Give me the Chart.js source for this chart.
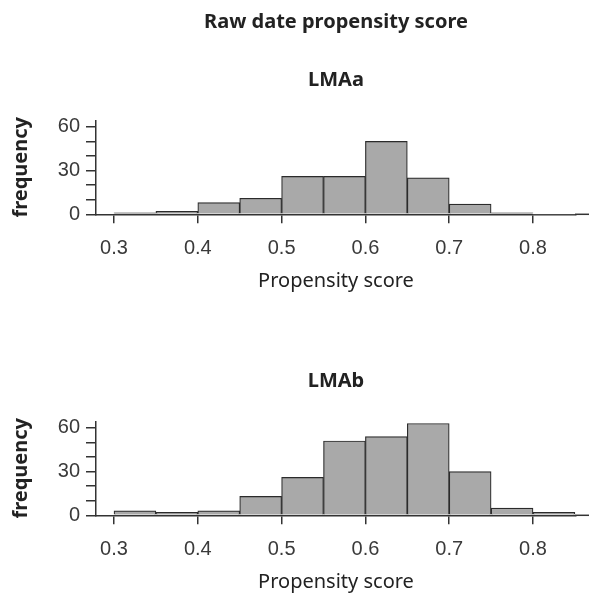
<!DOCTYPE html>
<html>
<head>
<meta charset="utf-8">
<script src="https://cdn.jsdelivr.net/npm/chart.js@4/dist/chart.umd.min.js"></script>
<style>
  html, body { margin: 0; padding: 0; background: #fff; }
  .panel { width: 589px; position: relative; }
  #top-panel { height: 301px; }
  #bottom-panel { height: 293px; }
  canvas { display: block; }
</style>
</head>
<body>
<div class="panel" id="top-panel"><canvas id="chart-a" width="589" height="293"></canvas></div>
<div class="panel" id="bottom-panel"><canvas id="chart-b" width="589" height="293"></canvas></div>
<script>
// histogram bins: midpoints of 0.05-wide bins from 0.30 to 0.85
const binMids = [0.325, 0.375, 0.425, 0.475, 0.525, 0.575, 0.625, 0.675, 0.725, 0.775, 0.825];
const lmaA = [1, 2, 8, 11, 26, 26, 50, 25, 7, 1, 0];
const lmaB = [3, 2, 3, 13, 26, 51, 54, 63, 30, 5, 2];

const xTicks = [0.3, 0.4, 0.5, 0.6, 0.7, 0.8];
const yTicks = [0, 10, 20, 30, 40, 50, 60];
const yLabels = [0, 30, 60];

const AXIS = '#333333';
const TEXT = '#222222';
const BAR_FILL = '#a9a9a9';
const TITLE_FONT = { family: 'Noto Sans', size: 20, weight: 'bold' };

// the x axis line runs on past the plot area to the edge of the figure
const extendAxis = {
  id: 'extendAxis',
  afterDraw(chart) {
    const { ctx, chartArea } = chart;
    ctx.save();
    ctx.strokeStyle = AXIS;
    ctx.lineWidth = 1.5;
    ctx.beginPath();
    ctx.moveTo(chartArea.right - 1, chartArea.bottom);
    ctx.lineTo(chart.width, chartArea.bottom);
    ctx.stroke();
    ctx.restore();
  }
};

function makeHist(canvasId, values, titleOpts, subtitleOpts) {
  return new Chart(document.getElementById(canvasId), {
    type: 'bar',
    data: {
      datasets: [{
        data: binMids.map((x, i) => ({ x, y: values[i] })),
        backgroundColor: BAR_FILL,
        borderColor: '#2b2b2b',
        // empty bins get no outline
        borderWidth: c => (c.raw && c.raw.y === 0) ? 0 : 1.2,
        barPercentage: 1,
        categoryPercentage: 1
      }]
    },
    options: {
      responsive: false,
      animation: false,
      devicePixelRatio: 1,
      layout: { padding: { left: 0, right: 13, top: 0, bottom: 0 } },
      plugins: {
        legend: { display: false },
        tooltip: { enabled: false },
        title: titleOpts,
        subtitle: subtitleOpts
      },
      scales: {
        x: {
          type: 'linear',
          offset: false,
          min: 0.27852,
          max: 0.8513,
          afterBuildTicks: s => { s.ticks = xTicks.map(v => ({ value: v })); },
          afterFit: s => { s.height = 78.7; },
          grid: { offset: false, drawOnChartArea: false, drawTicks: true, tickLength: 9, color: AXIS, lineWidth: 1.5 },
          border: { display: true, color: AXIS, width: 1.5 },
          ticks: {
            color: '#3a3a3a', padding: 13, autoSkip: false,
            font: { family: 'Liberation Sans', size: 20 },
            callback: v => v.toFixed(1),
            maxRotation: 0
          },
          title: {
            display: true, text: 'Propensity score', color: TEXT,
            font: { family: 'Noto Sans', size: 20 },
            padding: { top: 9, bottom: 0 }
          }
        },
        y: {
          min: 0,
          max: 64.5,
          afterBuildTicks: s => { s.ticks = yTicks.map(v => ({ value: v })); },
          afterFit: s => { s.width = 96; },
          grid: { drawOnChartArea: false, drawTicks: true, tickLength: 10, color: AXIS, lineWidth: 1.5 },
          border: { display: true, color: AXIS, width: 1.5 },
          ticks: {
            color: '#3a3a3a', padding: 6, autoSkip: false,
            font: { family: 'Liberation Sans', size: 20 },
            callback: v => yLabels.includes(v) ? String(v) : ''
          },
          title: {
            display: true, text: 'frequency', color: TEXT,
            font: TITLE_FONT,
            padding: { top: 9, bottom: 0 }
          }
        }
      }
    },
    plugins: [extendAxis]
  });
}

makeHist('chart-a', lmaA,
  { display: true, text: 'Raw date propensity score', color: TEXT, font: TITLE_FONT, fullSize: false,
    padding: { top: 10, bottom: 0 } },
  { display: true, text: 'LMAa', color: TEXT, font: TITLE_FONT, fullSize: false,
    padding: { top: 34, bottom: 28.3 } });

makeHist('chart-b', lmaB,
  { display: true, text: 'LMAb', color: TEXT, font: TITLE_FONT, fullSize: false,
    padding: { top: 68, bottom: 28.3 } },
  { display: false });
</script>
</body>
</html>
